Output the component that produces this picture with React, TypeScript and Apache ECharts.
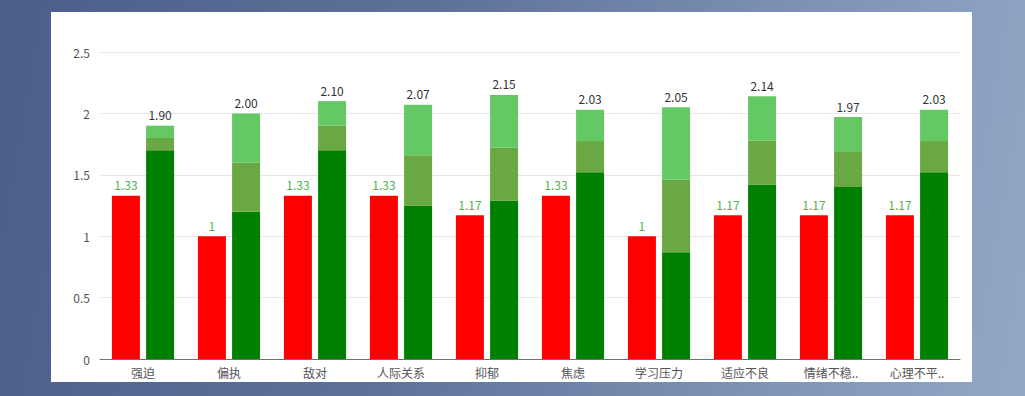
import React, { useEffect, useRef } from "react";
import * as echarts from "echarts";

const categories = ["强迫", "偏执", "敌对", "人际关系", "抑郁", "焦虑", "学习压力", "适应不良", "情绪不稳定", "心理不平衡"];
const redValues = [1.33, 1, 1.33, 1.33, 1.17, 1.33, 1, 1.17, 1.17, 1.17];
const darkGreen = [1.7, 1.2, 1.7, 1.25, 1.29, 1.52, 0.87, 1.42, 1.4, 1.52];
const midGreen = [0.1, 0.4, 0.2, 0.41, 0.43, 0.255, 0.59, 0.36, 0.285, 0.255];
const lightGreen = [0.1, 0.4, 0.2, 0.41, 0.43, 0.255, 0.59, 0.36, 0.285, 0.255];
const totals = [1.9, 2.0, 2.1, 2.07, 2.15, 2.03, 2.05, 2.14, 1.97, 2.03];
const yTicks = [0, 0.5, 1, 1.5, 2, 2.5];

export default function App() {
  const ref = useRef<HTMLDivElement>(null);
  useEffect(() => {
    if (!ref.current) return;
    const chart = echarts.init(ref.current, null, { renderer: "svg" });
    const font = "'Noto Sans CJK SC', 'Noto Sans', sans-serif";
    chart.setOption({
      animation: false,
      textStyle: { fontFamily: font },
      grid: { left: 49, right: 12, top: 40, bottom: 23 },
      xAxis: {
        type: "category",
        data: categories,
        axisLine: { lineStyle: { color: "#6E7079" } },
        axisTick: { lineStyle: { color: "#6E7079" } },
        axisLabel: {
          color: "#555",
          fontSize: 12,
          margin: 7,
          fontFamily: font,
          formatter: (v: string) => (v.length > 4 ? v.slice(0, 4) + ".." : v),
        },
      },
      yAxis: {
        type: "value",
        min: yTicks[0],
        max: yTicks[yTicks.length - 1],
        interval: 0.5,
        axisLine: { show: false },
        axisTick: { show: false },
        axisLabel: { color: "#555", fontSize: 12, margin: 10, fontFamily: font },
        splitLine: { lineStyle: { color: "#e6e6e6" } },
      },
      series: [
        {
          type: "bar",
          data: redValues,
          barWidth: 28,
          barGap: "22%",
          itemStyle: { color: "#ff0000" },
          label: { show: true, position: "top", color: "#4cb34c", fontSize: 12, fontFamily: font, distance: 5 },
        },
        {
          type: "bar",
          stack: "g",
          data: darkGreen,
          barWidth: 28,
          itemStyle: { color: "#008000" },
        },
        {
          type: "bar",
          stack: "g",
          data: midGreen,
          barWidth: 28,
          itemStyle: { color: "#6aa843" },
        },
        {
          type: "bar",
          stack: "g",
          data: lightGreen,
          barWidth: 28,
          itemStyle: { color: "#64c864" },
          label: {
            show: true,
            position: "top",
            color: "#333",
            fontSize: 12,
            fontFamily: font,
            distance: 5,
            formatter: (p: any) => totals[p.dataIndex].toFixed(2),
          },
        },
      ],
    });
    return () => chart.dispose();
  }, []);
  return (
    <div
      style={{
        position: "fixed",
        left: 0,
        top: 0,
        width: 1025,
        height: 396,
        background: "linear-gradient(100deg, #4a5e8a 0%, #5e7298 40%, #7f93b6 75%, #93a7c6 100%)",
        overflow: "hidden",
      }}
    >
      <div
        style={{
          position: "absolute",
          left: 51,
          top: 12,
          width: 921,
          height: 370,
          background: "#ffffff",
        }}
      >
        <div ref={ref} style={{ width: 921, height: 370 }} />
      </div>
    </div>
  );
}
